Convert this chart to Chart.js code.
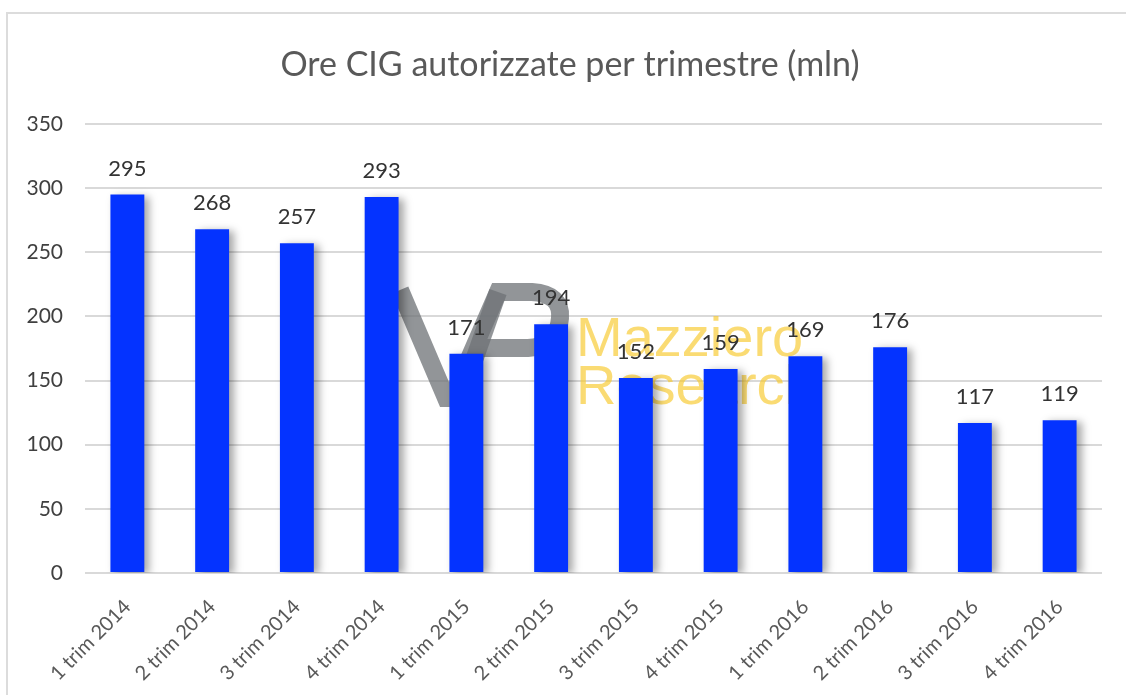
<!DOCTYPE html>
<html>
<head>
<meta charset="utf-8">
<script src="https://cdn.jsdelivr.net/npm/chart.js@4"></script>
<style>
  html, body { margin: 0; padding: 0; background: #fff; }
  canvas { display: block; }
</style>
</head>
<body>
<canvas id="cigChart" width="1126" height="695"></canvas>
<script>
// quarters and authorised CIG hours (millions)
const categories = ['1 trim 2014','2 trim 2014','3 trim 2014','4 trim 2014',
                    '1 trim 2015','2 trim 2015','3 trim 2015','4 trim 2015',
                    '1 trim 2016','2 trim 2016','3 trim 2016','4 trim 2016'];
const oreCig = [295, 268, 257, 293, 171, 194, 152, 159, 169, 176, 117, 119];
const yTicks = [0, 50, 100, 150, 200, 250, 300, 350];

const chartTitle = 'Ore CIG autorizzate per trimestre (mln)';

// background, frame, title, watermark, bar shadow and value labels
const decor = {
  id: 'decor',
  beforeDraw(chart) {
    const c = chart.ctx;
    c.save();
    c.fillStyle = '#fff';
    c.fillRect(0, 0, chart.width, chart.height);
    c.strokeStyle = '#dcdcdc';
    c.lineWidth = 2;
    c.strokeRect(7, 13, chart.width + 50, chart.height + 50);
    c.fillStyle = '#595959';
    c.font = '34px Lato';
    c.textAlign = 'center';
    c.textBaseline = 'middle';
    c.fillText(chartTitle, 570, 65);
    c.restore();
  },
  beforeDatasetsDraw(chart) {
    const c = chart.ctx;
    c.save();
    // logo
    c.strokeStyle = 'rgba(110,114,118,0.75)';
    c.lineWidth = 18;
    c.lineJoin = 'miter';
    c.beginPath();
    c.moveTo(400, 290);
    c.lineTo(446, 398);
    c.lineTo(452, 398);
    c.lineTo(498, 292);
    c.lineTo(532, 292);
    c.quadraticCurveTo(562, 294, 560, 318);
    c.quadraticCurveTo(558, 346, 528, 348);
    c.lineTo(476, 348);
    c.stroke();
    c.beginPath();
    c.moveTo(498, 292);
    c.lineTo(460, 400);
    c.stroke();
    // text
    c.fillStyle = 'rgba(248,200,40,0.65)';
    c.font = '56px "Liberation Sans"';
    c.textAlign = 'left';
    c.textBaseline = 'alphabetic';
    c.fillText('Mazziero', 576, 356);
    c.fillText('Research', 576, 404);
    c.restore();

    c.save();
    c.shadowColor = 'rgba(0,0,0,0.35)';
    c.shadowBlur = 8;
    c.shadowOffsetX = 5;
    c.shadowOffsetY = 2;
  },
  afterDatasetsDraw(chart) {
    const c = chart.ctx;
    c.restore();
    c.save();
    c.fillStyle = '#333';
    c.font = '22px Lato';
    c.textAlign = 'center';
    c.textBaseline = 'alphabetic';
    chart.getDatasetMeta(0).data.forEach((bar, i) => {
      c.fillText(String(oreCig[i]), bar.x, bar.y - 19);
    });
    c.restore();
  }
};

new Chart(document.getElementById('cigChart'), {
  type: 'bar',
  data: {
    labels: categories,
    datasets: [{
      data: oreCig,
      backgroundColor: '#0433ff',
      borderWidth: 0,
      categoryPercentage: 1,
      barPercentage: 0.4
    }]
  },
  options: {
    responsive: false,
    animation: false,
    devicePixelRatio: 1,
    layout: { padding: { top: 124, right: 24, left: 0, bottom: 0 } },
    plugins: { legend: { display: false }, tooltip: { enabled: false }, title: { display: false } },
    scales: {
      x: {
        grid: { display: false },
        border: { display: false },
        ticks: {
          color: '#595959',
          font: { family: 'Lato', size: 20 },
          minRotation: 45,
          maxRotation: 45,
          padding: 14
        },
        afterFit(s) { s.height = 122; }
      },
      y: {
        min: yTicks[0],
        max: yTicks[yTicks.length - 1],
        afterBuildTicks(s) { s.ticks = yTicks.map(v => ({ value: v })); },
        grid: { color: '#d9d9d9', lineWidth: 2, drawTicks: false },
        border: { display: false },
        ticks: {
          color: '#404040',
          font: { family: 'Lato', size: 21 },
          padding: 22
        },
        afterFit(s) { s.width = 85; }
      }
    }
  },
  plugins: [decor]
});
</script>
</body>
</html>
